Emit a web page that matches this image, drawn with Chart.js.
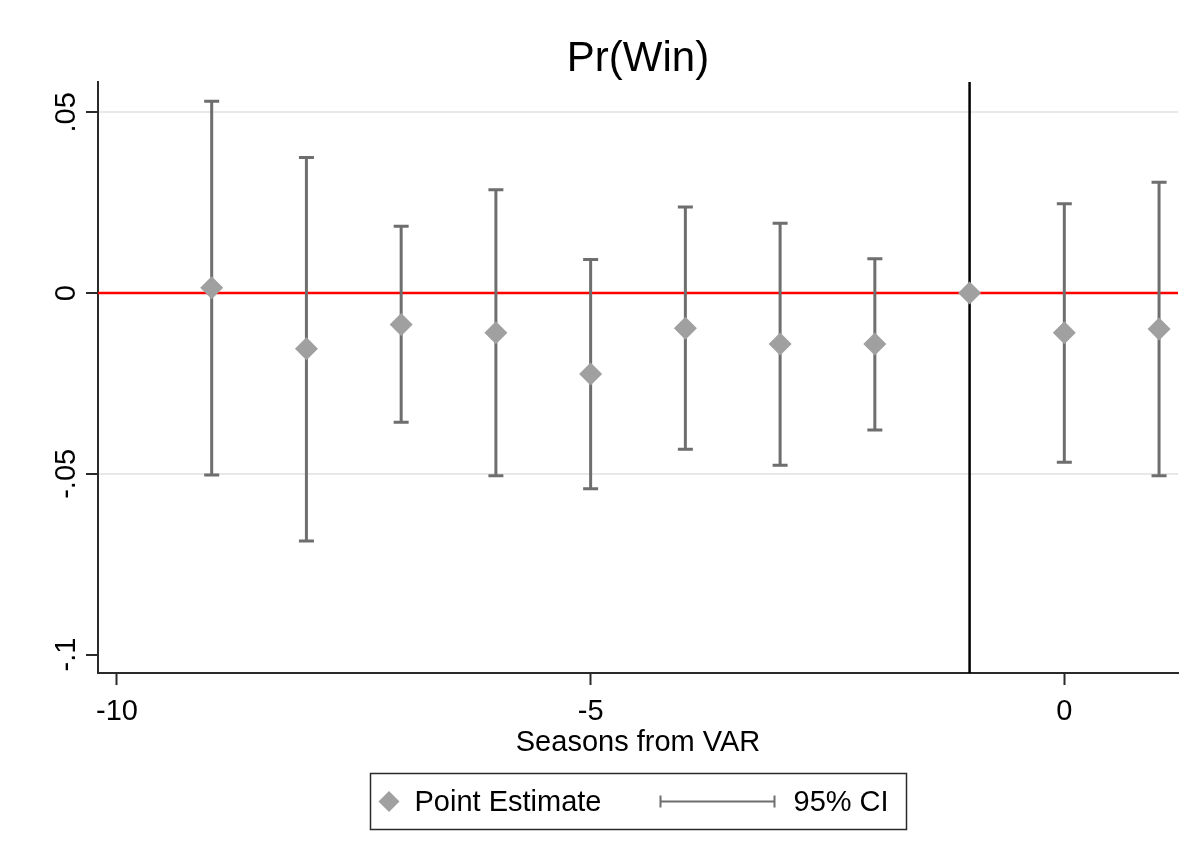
<!DOCTYPE html>
<html>
<head>
<meta charset="utf-8">
<title>Pr(Win)</title>
<script src="https://cdn.jsdelivr.net/npm/chart.js@4.4.1/dist/chart.umd.min.js"></script>
<style>
  html, body { margin: 0; padding: 0; background: #fff; }
  #wrap { width: 1197px; height: 867px; }
</style>
</head>
<body>
<div id="wrap"><canvas id="chart" width="1197" height="867"></canvas></div>
<script>
// ── DATA ─────────────────────────────────────────────
const seasons  = [-9, -8, -7, -6, -5, -4, -3, -2, -1, 0, 1];
const estimate = [0.0015, -0.0154, -0.0087, -0.0110, -0.0224, -0.0097, -0.0141, -0.0141, 0, -0.0110, -0.0099];
const ciLow    = [-0.0503, -0.0686, -0.0357, -0.0505, -0.0541, -0.0432, -0.0476, -0.0379, null, -0.0468, -0.0505];
const ciHigh   = [0.0531, 0.0375, 0.0185, 0.0286, 0.0093, 0.0238, 0.0193, 0.0095, null, 0.0247, 0.0307];

const xTicks      = [-10, -5, 0];
const xTickLabels = ['-10', '-5', '0'];
const yTicks      = [-0.1, -0.05, 0, 0.05];
const yTickLabels = ['-.1', '-.05', '0', '.05'];

const refY = 0;    // horizontal red line
const refX = -1;   // vertical black line, last season before VAR

// ── STYLE ────────────────────────────────────────────
const FONT   = "'Liberation Sans', Arial, sans-serif";
const CI_COL = '#6e6e6e';
const PT_COL = '#a0a0a0';
const AXIS   = '#2a2a2a';

// ── PLUGINS ──────────────────────────────────────────
// reference lines + confidence intervals, under the diamonds
const errorBars = {
  id: 'errorBars',
  beforeDatasetsDraw(chart) {
    const { ctx, chartArea: a, scales: { x, y } } = chart;
    ctx.save();
    ctx.lineCap = 'butt';

    const py = y.getPixelForValue(refY);
    ctx.strokeStyle = '#ff0000';
    ctx.lineWidth = 2.5;
    ctx.beginPath();
    ctx.moveTo(a.left, py);
    ctx.lineTo(a.right, py);
    ctx.stroke();

    const px = x.getPixelForValue(refX);
    ctx.strokeStyle = '#000';
    ctx.lineWidth = 2.5;
    ctx.beginPath();
    ctx.moveTo(px, a.top);
    ctx.lineTo(px, a.bottom);
    ctx.stroke();

    ctx.strokeStyle = CI_COL;
    ctx.lineWidth = 3;
    seasons.forEach((s, i) => {
      if (ciLow[i] == null) return;
      const cx = x.getPixelForValue(s);
      const lo = y.getPixelForValue(ciLow[i]);
      const hi = y.getPixelForValue(ciHigh[i]);
      ctx.beginPath();
      ctx.moveTo(cx, lo); ctx.lineTo(cx, hi);
      ctx.moveTo(cx - 7.5, lo); ctx.lineTo(cx + 7.5, lo);
      ctx.moveTo(cx - 7.5, hi); ctx.lineTo(cx + 7.5, hi);
      ctx.stroke();
    });
    ctx.restore();
  }
};

// vertical y tick labels + boxed legend
const extras = {
  id: 'extras',
  afterDraw(chart) {
    const { ctx, chartArea: a, scales: { y } } = chart;
    ctx.save();
    ctx.fillStyle = '#000';
    ctx.font = '29px ' + FONT;

    // y labels read bottom-to-top
    y.ticks.forEach(t => {
      const i = yTicks.indexOf(t.value);
      if (i < 0) return;
      ctx.save();
      ctx.translate(a.left - 23.5, y.getPixelForValue(t.value));
      ctx.rotate(-Math.PI / 2);
      ctx.textAlign = 'center';
      ctx.textBaseline = 'alphabetic';
      ctx.fillText(yTickLabels[i], 0, 0);
      ctx.restore();
    });

    // legend
    const w = 536, h = 56;
    const lx = Math.round((a.left + a.right) / 2 - w / 2) + 0.5;
    const ly = 773.5;
    const cy = ly + h / 2;
    ctx.strokeStyle = AXIS;
    ctx.lineWidth = 1.5;
    ctx.strokeRect(lx, ly, w, h);

    const dx = lx + 18.5, r = 10.5;
    ctx.fillStyle = PT_COL;
    ctx.beginPath();
    ctx.moveTo(dx, cy - r); ctx.lineTo(dx + r, cy);
    ctx.lineTo(dx, cy + r); ctx.lineTo(dx - r, cy);
    ctx.closePath();
    ctx.fill();

    ctx.fillStyle = '#000';
    ctx.textAlign = 'left';
    ctx.textBaseline = 'middle';
    ctx.fillText('Point Estimate', lx + 44, cy + 1);

    const x0 = lx + 290, x1 = lx + 404;
    ctx.strokeStyle = CI_COL;
    ctx.lineWidth = 2;
    ctx.beginPath();
    ctx.moveTo(x0, cy); ctx.lineTo(x1, cy);
    ctx.moveTo(x0, cy - 6); ctx.lineTo(x0, cy + 6);
    ctx.moveTo(x1, cy - 6); ctx.lineTo(x1, cy + 6);
    ctx.stroke();

    ctx.fillStyle = '#000';
    ctx.fillText('95% CI', lx + 423, cy + 1);
    ctx.restore();
  }
};

// ── CHART ────────────────────────────────────────────
new Chart(document.getElementById('chart'), {
  type: 'scatter',
  data: {
    datasets: [{
      label: 'Point Estimate',
      data: seasons.map((s, i) => ({ x: s, y: estimate[i] })),
      pointStyle: 'rectRot',
      pointRadius: 11.5,
      pointHoverRadius: 11.5,
      backgroundColor: PT_COL,
      borderWidth: 0,
      showLine: false
    }]
  },
  options: {
    responsive: false,
    animation: false,
    devicePixelRatio: 1,
    layout: { padding: { left: 0, right: 19, top: 0, bottom: 107 } },
    plugins: {
      legend: { display: false },
      tooltip: { enabled: false },
      title: {
        display: true,
        text: 'Pr(Win)',
        fullSize: false,
        color: '#000',
        font: { family: FONT, size: 42, weight: 'normal', lineHeight: 1 },
        padding: { top: 38.5, bottom: 1.5 }
      }
    },
    scales: {
      x: {
        type: 'linear',
        min: -10.2,
        max: 1.2,
        afterBuildTicks: s => { s.ticks = xTicks.map(v => ({ value: v })); },
        afterFit: s => { s.height = 87; },
        ticks: {
          callback: v => xTickLabels[xTicks.indexOf(v)],
          font: { family: FONT, size: 29 },
          color: '#000',
          padding: 10,
          maxRotation: 0,
          autoSkip: false
        },
        grid: { drawOnChartArea: false, drawTicks: true, tickLength: 12, tickWidth: 2, tickColor: AXIS },
        border: { display: true, color: AXIS, width: 2 },
        title: {
          display: true,
          text: 'Seasons from VAR',
          color: '#000',
          font: { family: FONT, size: 29 },
          padding: 0
        }
      },
      y: {
        type: 'linear',
        min: -0.1051,
        max: 0.0584,
        afterBuildTicks: s => { s.ticks = yTicks.map(v => ({ value: v })); },
        afterFit: s => { s.width = 98; },
        ticks: { display: false },
        grid: {
          color: c => (c.tick && c.tick.value > -0.09 ? '#e8e8e8' : 'rgba(0,0,0,0)'),
          lineWidth: 2,
          drawTicks: true,
          tickLength: 12,
          tickWidth: 2,
          tickColor: AXIS
        },
        border: { display: true, color: AXIS, width: 2 }
      }
    }
  },
  plugins: [errorBars, extras]
});
</script>
</body>
</html>
